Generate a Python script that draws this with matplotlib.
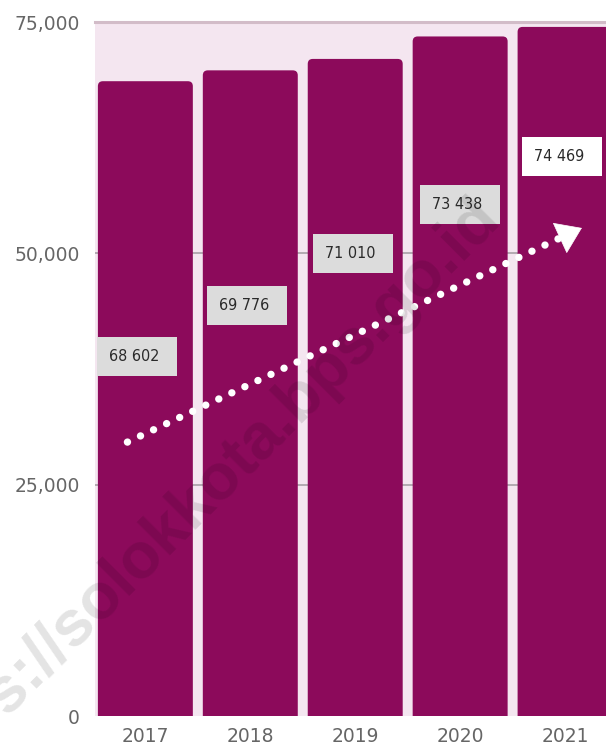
import numpy as np
import matplotlib
matplotlib.use("Agg")
import matplotlib.pyplot as plt
from matplotlib.patches import FancyBboxPatch, Rectangle

# data
years = ["2017", "2018", "2019", "2020", "2021"]
values = [68602, 69776, 71010, 73438, 74469]
value_labels = ["68 602", "69 776", "71 010", "73 438", "74 469"]
# label box centres (layout)
label_y = [38900, 44400, 50000, 55300, 60500]
label_dx = [-0.08, -0.03, -0.02, 0.0, -0.03]
label_fill = ["#DCDCDC", "#DCDCDC", "#DCDCDC", "#DCDCDC", "#FFFFFF"]
yticks = [0, 25000, 50000, 75000]

bar_color = "#8C0A5B"
bg_color = "#F4E6F0"

fig = plt.figure(figsize=(6.06, 7.49), dpi=100)
ax = fig.add_axes([95 / 606, 33 / 749, 1 - 95 / 606, 694 / 749])
ax.set_facecolor(bg_color)

x = np.arange(len(years))
bars = ax.bar(x, values, width=0.905, color=bar_color, zorder=2)

ax.set_xlim(-0.48, 4.39)
ax.set_ylim(0, 75000)

# rounded tops: swap each bar for a rounded box that starts below zero
px_x = 105.0  # pixels per x unit
px_y = 694.0 / 75000  # pixels per y unit
r = 5 / px_x
for b in bars:
    b.set_visible(False)
    p = FancyBboxPatch((b.get_x(), -3000), b.get_width(), b.get_height() + 3000,
                       boxstyle="round,pad=0,rounding_size=%f" % r,
                       mutation_aspect=(1 / px_y) / (1 / px_x),
                       facecolor=bar_color, edgecolor="none", zorder=2)
    ax.add_patch(p)

# grid
for v in yticks[1:-1]:
    ax.axhline(v, color="#A8A0A6", lw=1.2, zorder=1)
ax.axhline(75000, color="#D2BCC8", lw=2.2, zorder=1, clip_on=False)

for s in ax.spines.values():
    s.set_visible(False)
ax.set_yticks(yticks)
ax.set_yticklabels(["0", "25,000", "50,000", "75,000"])
ax.set_xticks(x)
ax.set_xticklabels(years)
ax.tick_params(axis="both", length=0, labelsize=13.5, labelcolor="#666666")
ax.tick_params(axis="y", pad=11)
ax.tick_params(axis="x", pad=8)
for t in ax.get_xticklabels() + ax.get_yticklabels():
    t.set_fontfamily("DejaVu Sans")

# value boxes
bw = 80 / px_x
bh = 39 / px_y
for i in range(len(values)):
    cx = x[i] + label_dx[i]
    ax.add_patch(Rectangle((cx - bw / 2, label_y[i] - bh / 2), bw, bh,
                           facecolor=label_fill[i], edgecolor="none", zorder=3))
    ax.text(cx - 0.03, label_y[i], value_labels[i], ha="center", va="center",
            fontsize=11.5, color="#2A2A2A", family="DejaVu Sans",
            fontstretch="condensed", zorder=4)

# dotted trend arrow
start = (-0.171, 29600)
base = (3.95, 51650)
tip = (4.16, 52740)
ax.plot([start[0], base[0]], [start[1], base[1]], color="white", lw=5.3,
        linestyle=(0, (0.01, 1.95)), dash_capstyle="round",
        solid_capstyle="round", zorder=5)
ax.annotate("", xy=tip, xytext=base,
            arrowprops=dict(arrowstyle="-|>,head_length=0.8,head_width=0.55",
                            mutation_scale=21, color="white", lw=0.5,
                            shrinkA=0, shrinkB=0), zorder=5)

# watermark: size it so the part after "http" runs corner to corner
wm_font = dict(family="Liberation Sans", fontweight="bold")
renderer = fig.canvas.get_renderer()
probe = fig.text(0, 0, "s://solokkota.bps.go.id", fontsize=30, **wm_font)
w = probe.get_window_extent(renderer).width
probe.remove()
wm_size = 30 * 700 / w
fig.text(490 / 606, 1 - 208 / 749, "https://solokkota.bps.go.id",
         rotation=45, rotation_mode="anchor", ha="right", va="center",
         fontsize=wm_size, color="black", alpha=0.11, zorder=10, **wm_font)

fig.savefig("out.png", dpi=100)
